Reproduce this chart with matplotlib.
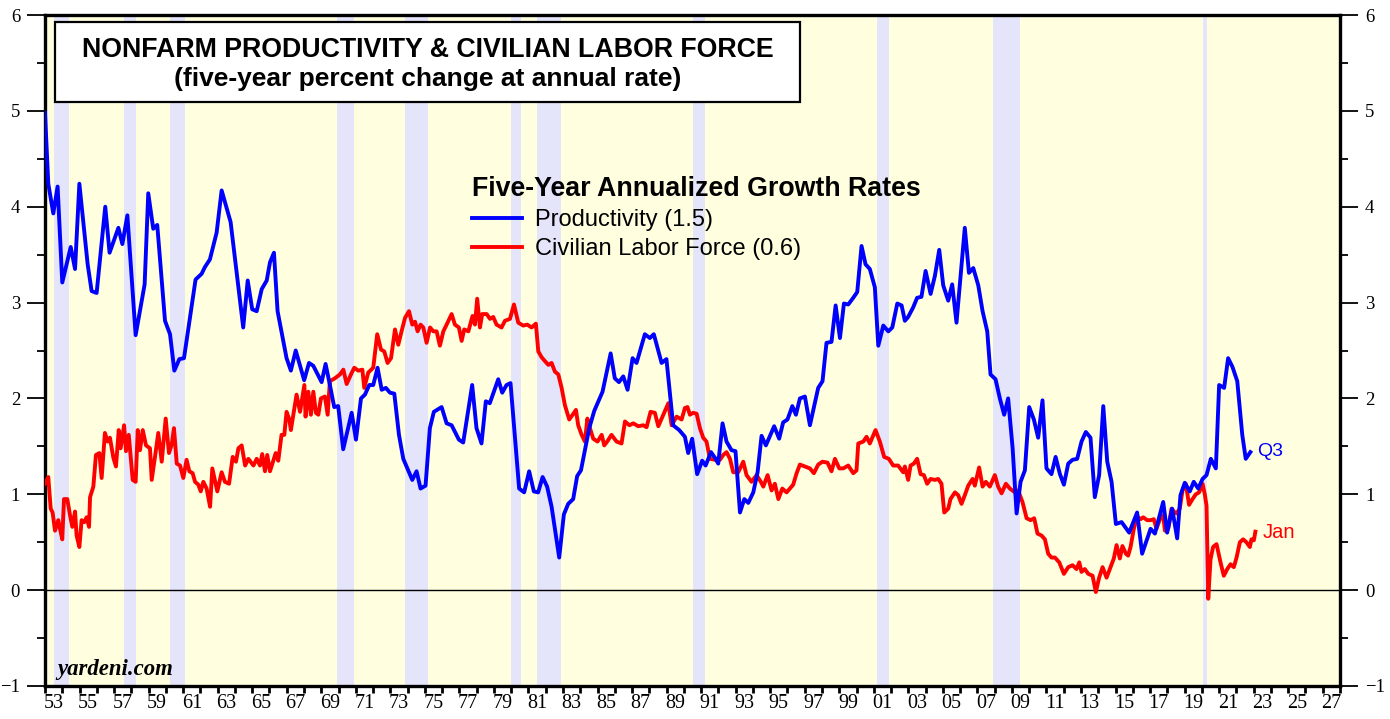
import matplotlib
matplotlib.use("Agg")
import matplotlib.pyplot as plt
from matplotlib.patches import Rectangle

# ---------------- data ----------------
prod_years = [1953.00, 1953.19, 1953.48, 1953.73, 1954.00, 1954.49, 1954.74, 1954.99, 1955.47, 1955.70,
              1955.99, 1956.49, 1956.74, 1957.25, 1957.48, 1957.77, 1958.25, 1958.77, 1958.98, 1959.27,
              1959.50, 1959.95, 1960.24, 1960.49, 1960.78, 1961.05, 1961.72, 1962.07, 1962.26, 1962.55,
              1962.94, 1963.23, 1963.75, 1964.48, 1964.74, 1965.00, 1965.26, 1965.55, 1965.84, 1966.03,
              1966.26, 1966.47, 1966.99, 1967.24, 1967.52, 1968.01, 1968.29, 1968.54, 1969.02, 1969.25,
              1969.50, 1969.75, 1969.98, 1970.27, 1970.76, 1971.01, 1971.30, 1971.53, 1971.78, 1972.01,
              1972.26, 1972.50, 1972.74, 1972.98, 1973.23, 1973.50, 1973.75, 1974.27, 1974.52, 1974.75,
              1975.04, 1975.29, 1975.52, 1975.97, 1976.26, 1976.55, 1976.97, 1977.22, 1977.74, 1977.99,
              1978.28, 1978.53, 1978.76, 1979.25, 1979.48, 1979.73, 1979.96, 1980.46, 1980.75, 1981.04,
              1981.31, 1981.56, 1981.82, 1982.08, 1982.34, 1982.78, 1983.05, 1983.30, 1983.59, 1983.82,
              1984.04, 1984.52, 1984.81, 1985.29, 1985.76, 1986.00, 1986.24, 1986.49, 1986.74, 1987.03,
              1987.26, 1987.74, 1988.03, 1988.26, 1988.71, 1988.99, 1989.38, 1989.73, 1990.06, 1990.25,
              1990.48, 1990.77, 1991.06, 1991.26, 1991.57, 1991.84, 1991.99, 1992.24, 1992.47, 1992.76,
              1992.99, 1993.25, 1993.50, 1993.73, 1994.02, 1994.27, 1994.50, 1994.75, 1995.23, 1995.52,
              1995.75, 1996.00, 1996.28, 1996.49, 1996.72, 1997.01, 1997.30, 1997.78, 1998.03, 1998.26,
              1998.55, 1998.79, 1999.04, 1999.27, 1999.52, 1999.81, 2000.04, 2000.29, 2000.52, 2000.77,
              2001.06, 2001.26, 2001.55, 2001.84, 2002.07, 2002.36, 2002.61, 2002.80, 2002.99, 2003.28,
              2003.51, 2003.76, 2004.00, 2004.29, 2004.54, 2004.79, 2005.02, 2005.31, 2005.54, 2005.79,
              2006.04, 2006.27, 2006.51, 2006.76, 2007.05, 2007.30, 2007.57, 2007.76, 2008.05, 2008.30,
              2008.55, 2008.78, 2009.04, 2009.27, 2009.50, 2009.75, 2010.00, 2010.27, 2010.52, 2010.77,
              2011.00, 2011.29, 2011.53, 2011.78, 2012.01, 2012.26, 2012.51, 2012.78, 2013.03, 2013.28,
              2013.55, 2013.80, 2014.05, 2014.29, 2014.52, 2014.77, 2015.02, 2015.35, 2015.79, 2016.25,
              2016.54, 2017.03, 2017.28, 2017.76, 2017.99, 2018.28, 2018.57, 2018.76, 2019.01, 2019.30,
              2019.53, 2019.79, 2020.04, 2020.27, 2020.52, 2020.81, 2021.00, 2021.29, 2021.52, 2021.77,
              2022.05, 2022.34, 2022.54, 2022.81]
prod_values = [4.98, 4.24, 3.93, 4.21, 3.21, 3.58, 3.35, 4.24, 3.40, 3.12,
               3.10, 4.00, 3.52, 3.78, 3.61, 3.91, 2.66, 3.19, 4.14, 3.77,
               3.81, 2.81, 2.67, 2.29, 2.41, 2.42, 3.24, 3.30, 3.37, 3.45,
               3.73, 4.17, 3.84, 2.74, 3.23, 2.93, 2.91, 3.14, 3.23, 3.42,
               3.52, 2.91, 2.42, 2.29, 2.50, 2.19, 2.37, 2.34, 2.17, 2.36,
               2.14, 1.91, 1.92, 1.47, 1.85, 1.57, 2.00, 2.04, 2.14, 2.14,
               2.32, 2.09, 2.11, 2.06, 2.05, 1.62, 1.37, 1.15, 1.24, 1.06,
               1.09, 1.69, 1.86, 1.91, 1.74, 1.72, 1.57, 1.54, 2.14, 1.69,
               1.53, 1.97, 1.95, 2.20, 2.06, 2.14, 2.16, 1.06, 1.02, 1.24,
               1.03, 1.02, 1.18, 1.08, 0.87, 0.34, 0.79, 0.90, 0.95, 1.19,
               1.25, 1.69, 1.87, 2.07, 2.47, 2.21, 2.17, 2.23, 2.09, 2.42,
               2.37, 2.67, 2.63, 2.67, 2.37, 2.41, 1.72, 1.67, 1.60, 1.43,
               1.58, 1.21, 1.35, 1.30, 1.44, 1.37, 1.32, 1.74, 1.55, 1.46,
               1.45, 0.81, 0.95, 0.91, 1.02, 1.23, 1.61, 1.51, 1.71, 1.58,
               1.75, 1.78, 1.92, 1.83, 2.00, 2.02, 1.72, 2.11, 2.18, 2.58,
               2.59, 2.97, 2.63, 2.99, 2.98, 3.05, 3.11, 3.59, 3.40, 3.35,
               3.16, 2.55, 2.76, 2.70, 2.74, 2.99, 2.97, 2.81, 2.85, 2.95,
               3.05, 3.06, 3.33, 3.09, 3.28, 3.55, 3.18, 3.02, 3.19, 2.79,
               3.30, 3.78, 3.31, 3.36, 3.18, 2.91, 2.70, 2.25, 2.20, 2.00,
               1.83, 2.00, 1.48, 0.80, 1.13, 1.25, 1.91, 1.78, 1.59, 1.98,
               1.27, 1.21, 1.39, 1.21, 1.10, 1.32, 1.36, 1.37, 1.55, 1.65,
               1.59, 0.97, 1.20, 1.92, 1.34, 1.13, 0.69, 0.71, 0.60, 0.81,
               0.38, 0.64, 0.59, 0.92, 0.60, 0.85, 0.54, 0.99, 1.12, 1.03,
               1.13, 1.06, 1.16, 1.20, 1.37, 1.27, 2.14, 2.11, 2.42, 2.33,
               2.18, 1.62, 1.37, 1.44]

lf_years = [1953.00, 1953.19, 1953.33, 1953.44, 1953.58, 1953.77, 1953.87, 1954.00, 1954.10, 1954.29,
            1954.45, 1954.58, 1954.74, 1954.83, 1954.99, 1955.12, 1955.28, 1955.41, 1955.55, 1955.61,
            1955.80, 1955.95, 1956.15, 1956.28, 1956.47, 1956.63, 1956.76, 1956.96, 1957.11, 1957.27,
            1957.38, 1957.58, 1957.69, 1957.85, 1958.08, 1958.25, 1958.37, 1958.50, 1958.66, 1958.85,
            1959.08, 1959.18, 1959.37, 1959.56, 1959.76, 1959.99, 1960.18, 1960.34, 1960.47, 1960.63,
            1960.82, 1961.01, 1961.20, 1961.36, 1961.55, 1961.69, 1961.88, 1962.02, 1962.17, 1962.36,
            1962.56, 1962.69, 1962.98, 1963.23, 1963.42, 1963.66, 1963.87, 1964.06, 1964.20, 1964.39,
            1964.59, 1964.78, 1965.07, 1965.26, 1965.45, 1965.58, 1965.74, 1965.87, 1966.03, 1966.22,
            1966.36, 1966.51, 1966.70, 1966.86, 1966.99, 1967.15, 1967.24, 1967.38, 1967.57, 1967.77,
            1968.02, 1968.09, 1968.25, 1968.40, 1968.54, 1968.69, 1968.83, 1968.98, 1969.21, 1969.37,
            1969.50, 1969.79, 1970.08, 1970.28, 1970.47, 1970.72, 1970.91, 1971.14, 1971.38, 1971.49,
            1971.72, 1972.01, 1972.24, 1972.46, 1972.65, 1972.84, 1973.04, 1973.27, 1973.46, 1973.65,
            1973.85, 1974.08, 1974.27, 1974.43, 1974.58, 1974.75, 1974.91, 1975.10, 1975.30, 1975.49,
            1975.68, 1975.87, 1976.07, 1976.26, 1976.55, 1976.74, 1976.97, 1977.13, 1977.28, 1977.52,
            1977.76, 1977.90, 1978.03, 1978.19, 1978.32, 1978.58, 1978.77, 1978.96, 1979.15, 1979.44,
            1979.64, 1979.93, 1980.16, 1980.41, 1980.70, 1980.93, 1981.18, 1981.43, 1981.57, 1981.76,
            1981.95, 1982.15, 1982.34, 1982.53, 1982.73, 1982.92, 1983.11, 1983.36, 1983.56, 1983.75,
            1983.88, 1984.08, 1984.27, 1984.41, 1984.56, 1984.75, 1985.00, 1985.24, 1985.39, 1985.56,
            1985.81, 1986.10, 1986.39, 1986.59, 1986.84, 1987.07, 1987.36, 1987.65, 1987.84, 1988.07,
            1988.32, 1988.52, 1988.81, 1989.10, 1989.29, 1989.58, 1989.87, 1990.06, 1990.21, 1990.35,
            1990.54, 1990.74, 1990.93, 1991.12, 1991.31, 1991.51, 1991.80, 1992.09, 1992.28, 1992.47,
            1992.67, 1992.86, 1993.15, 1993.44, 1993.63, 1993.92, 1994.21, 1994.46, 1994.60, 1994.85,
            1995.08, 1995.27, 1995.47, 1995.70, 1995.95, 1996.14, 1996.33, 1996.53, 1996.72, 1997.01,
            1997.30, 1997.53, 1997.78, 1998.03, 1998.32, 1998.55, 1998.75, 1999.00, 1999.23, 1999.52,
            1999.81, 2000.00, 2000.10, 2000.39, 2000.58, 2000.77, 2001.10, 2001.35, 2001.60, 2001.87,
            2002.12, 2002.41, 2002.70, 2002.80, 2002.99, 2003.13, 2003.32, 2003.51, 2003.71, 2003.90,
            2004.09, 2004.29, 2004.54, 2004.73, 2004.92, 2005.08, 2005.31, 2005.44, 2005.70, 2005.89,
            2006.08, 2006.27, 2006.47, 2006.72, 2006.85, 2007.10, 2007.30, 2007.49, 2007.72, 2008.01,
            2008.20, 2008.40, 2008.65, 2008.88, 2009.17, 2009.36, 2009.61, 2009.85, 2010.08, 2010.29,
            2010.48, 2010.71, 2010.91, 2011.10, 2011.29, 2011.49, 2011.74, 2012.01, 2012.26, 2012.51,
            2012.74, 2012.90, 2013.03, 2013.22, 2013.42, 2013.67, 2013.86, 2014.05, 2014.25, 2014.48,
            2014.67, 2014.90, 2015.06, 2015.25, 2015.40, 2015.60, 2015.73, 2015.87, 2016.06, 2016.25,
            2016.45, 2016.60, 2016.83, 2017.03, 2017.22, 2017.37, 2017.57, 2017.76, 2017.86, 2018.05,
            2018.24, 2018.38, 2018.53, 2018.72, 2018.88, 2019.07, 2019.26, 2019.46, 2019.65, 2019.84,
            2020.04, 2020.17, 2020.27, 2020.37, 2020.50, 2020.65, 2020.85, 2021.08, 2021.27, 2021.47,
            2021.66, 2021.85, 2022.01, 2022.20, 2022.39, 2022.58, 2022.78, 2022.87, 2023.01, 2023.10]
lf_values = [1.11, 1.18, 0.85, 0.81, 0.62, 0.73, 0.64, 0.53, 0.95, 0.95,
             0.78, 0.66, 0.82, 0.57, 0.45, 0.73, 0.71, 0.76, 0.66, 0.97,
             1.08, 1.41, 1.43, 1.17, 1.64, 1.55, 1.59, 1.38, 1.29, 1.67,
             1.48, 1.72, 1.45, 1.62, 1.15, 1.13, 1.67, 1.46, 1.67, 1.51,
             1.48, 1.15, 1.39, 1.64, 1.34, 1.79, 1.43, 1.52, 1.69, 1.32,
             1.30, 1.17, 1.36, 1.24, 1.22, 1.13, 1.10, 1.03, 1.13, 1.06,
             0.87, 1.27, 1.03, 1.23, 1.13, 1.11, 1.39, 1.34, 1.48, 1.51,
             1.30, 1.37, 1.30, 1.37, 1.30, 1.42, 1.24, 1.41, 1.24, 1.35,
             1.43, 1.35, 1.62, 1.62, 1.86, 1.78, 1.67, 1.83, 2.04, 1.86,
             2.14, 1.81, 2.07, 1.83, 2.07, 1.85, 1.83, 2.00, 2.02, 1.83,
             2.18, 2.21, 2.25, 2.30, 2.15, 2.25, 2.32, 2.29, 2.30, 2.11,
             2.27, 2.32, 2.67, 2.51, 2.49, 2.37, 2.42, 2.72, 2.56, 2.70,
             2.84, 2.91, 2.77, 2.80, 2.70, 2.77, 2.74, 2.58, 2.74, 2.70,
             2.70, 2.55, 2.70, 2.77, 2.88, 2.77, 2.74, 2.60, 2.72, 2.70,
             2.86, 2.77, 3.04, 2.74, 2.88, 2.88, 2.83, 2.85, 2.77, 2.74,
             2.81, 2.83, 2.98, 2.79, 2.76, 2.77, 2.74, 2.78, 2.49, 2.43,
             2.39, 2.35, 2.37, 2.28, 2.25, 2.11, 1.93, 1.78, 1.83, 1.88,
             1.72, 1.62, 1.55, 1.79, 1.69, 1.58, 1.55, 1.62, 1.51, 1.55,
             1.62, 1.55, 1.53, 1.76, 1.72, 1.74, 1.71, 1.72, 1.70, 1.86,
             1.85, 1.71, 1.83, 1.95, 1.72, 1.81, 1.78, 1.90, 1.91, 1.83,
             1.85, 1.84, 1.69, 1.59, 1.55, 1.37, 1.36, 1.36, 1.41, 1.44,
             1.37, 1.23, 1.23, 1.34, 1.20, 1.13, 1.20, 1.13, 1.08, 1.20,
             1.04, 1.11, 0.95, 1.06, 1.02, 1.06, 1.10, 1.22, 1.31, 1.29,
             1.27, 1.22, 1.31, 1.34, 1.33, 1.24, 1.37, 1.27, 1.27, 1.30,
             1.22, 1.25, 1.53, 1.55, 1.60, 1.53, 1.67, 1.55, 1.39, 1.37,
             1.30, 1.30, 1.23, 1.29, 1.15, 1.30, 1.32, 1.37, 1.21, 1.20,
             1.11, 1.16, 1.15, 1.16, 1.11, 0.81, 0.85, 0.95, 1.02, 0.99,
             0.90, 0.99, 1.09, 1.16, 1.09, 1.28, 1.08, 1.13, 1.08, 1.20,
             1.08, 1.01, 1.11, 1.06, 1.02, 1.04, 0.92, 0.75, 0.73, 0.75,
             0.59, 0.57, 0.53, 0.38, 0.34, 0.34, 0.29, 0.17, 0.24, 0.26,
             0.22, 0.29, 0.19, 0.22, 0.17, 0.15, -0.02, 0.13, 0.24, 0.13,
             0.22, 0.33, 0.47, 0.33, 0.46, 0.38, 0.36, 0.45, 0.64, 0.77,
             0.74, 0.76, 0.73, 0.73, 0.74, 0.64, 0.74, 0.78, 0.62, 0.64,
             0.85, 0.82, 0.80, 0.85, 1.04, 1.11, 0.89, 0.95, 1.00, 1.02,
             1.11, 1.00, 0.88, -0.09, 0.32, 0.45, 0.48, 0.29, 0.15, 0.22,
             0.27, 0.24, 0.34, 0.50, 0.53, 0.50, 0.45, 0.53, 0.52, 0.61]

recession_starts = [1953.50, 1957.58, 1960.25, 1969.92, 1973.83, 1980.00, 1981.50, 1990.50, 2001.17, 2007.92, 2020.08]
recession_ends   = [1954.37, 1958.29, 1961.12, 1970.87, 1975.21, 1980.54, 1982.87, 1991.21, 2001.87, 2009.46, 2020.29]

prod_label = "Productivity (1.5)"
lf_label = "Civilian Labor Force (0.6)"
title_line1 = "NONFARM PRODUCTIVITY & CIVILIAN LABOR FORCE"
title_line2 = "(five-year percent change at annual rate)"
legend_title = "Five-Year Annualized Growth Rates"

# ---------------- figure ----------------
SANS = ["Liberation Sans", "DejaVu Sans"]
SERIF = ["Liberation Serif", "DejaVu Serif"]

fig = plt.figure(figsize=(13.9, 7.19), dpi=100)
ax = fig.add_axes([45/1390, 1 - 686/719, 1295/1390, 671/719])
ax.set_facecolor("#FFFFE0")

for s, e in zip(recession_starts, recession_ends):
    ax.axvspan(s, e, color="#E4E4FA", lw=0, zorder=1)

ax.axhline(0, color="black", lw=1.0, zorder=2)

l1, = ax.plot(prod_years, prod_values, color="#0000FF", lw=2.8, zorder=4,
              solid_joinstyle="round", label=prod_label)
l2, = ax.plot(lf_years, lf_values, color="#FF0000", lw=2.8, zorder=3,
              solid_joinstyle="round", label=lf_label)

ax.set_xlim(1953, 2028)
ax.set_ylim(-1, 6)

# x ticks: a tick at every year boundary, labels centred on odd years
ax.set_xticks(range(1953, 2029))
ax.set_xticklabels([])
ax.set_xticks([y + 0.5 for y in range(1953, 2028, 2)], minor=True)
ax.set_xticklabels([f"{y % 100:02d}" for y in range(1953, 2028, 2)], minor=True,
                   fontfamily=SERIF, fontsize=14.5)
ax.tick_params(axis="x", which="major", direction="out", length=5, width=2, bottom=True, top=False)
ax.tick_params(axis="x", which="minor", length=0, pad=6)

# y ticks on both sides
ax.set_yticks(range(-1, 7))
ax.set_yticks([v + 0.5 for v in range(-1, 6)], minor=True)
ax.tick_params(axis="y", which="major", direction="out", length=13, width=1.3,
               left=True, right=True, labelleft=True, labelright=True, pad=5)
ax.tick_params(axis="y", which="minor", direction="out", length=6, width=1.3,
               left=True, right=True)
for lab in ax.get_yticklabels():
    lab.set_fontfamily(SERIF)
    lab.set_fontsize(13.5)

for sp in ax.spines.values():
    sp.set_linewidth(2.4)
    sp.set_color("black")

# title box
ax.add_patch(Rectangle((10/1295, 1 - 87/671), 745/1295, 80/671, transform=ax.transAxes,
                       facecolor="white", edgecolor="black", lw=1.6, zorder=6))
ax.text(382.5/1295, 1 - 35/671, title_line1, transform=ax.transAxes, ha="center", va="center",
        fontsize=19.3, fontweight="bold", fontfamily=SANS, zorder=7)
ax.text(382.5/1295, 1 - 64/671, title_line2, transform=ax.transAxes, ha="center", va="center",
        fontsize=19, fontweight="bold", fontfamily=SANS, zorder=7)

# legend
leg = ax.legend(handles=[l1, l2], loc="upper left", bbox_to_anchor=((472-45)/1295, 1 - (176-15)/671),
                frameon=False, borderpad=0, borderaxespad=0, handlelength=2.1, handletextpad=0.55,
                labelspacing=0.3, prop={"family": SANS, "size": 17},
                title=legend_title, title_fontproperties={"family": SANS, "size": 19.3, "weight": "bold"},
                alignment="left")
for h in leg.legend_handles:
    h.set_linewidth(2.8)

# end labels
ax.text(2023.2, 1.45, "Q3", color="#0000FF", fontsize=14, fontfamily=SANS, va="center", ha="left")
ax.text(2023.5, 0.60, "Jan", color="#FF0000", fontsize=14.5, fontfamily=SANS, va="center", ha="left")

ax.text(1953.7, -0.83, "yardeni.com", fontsize=16.4, fontfamily=SERIF, fontweight="bold",
        fontstyle="italic", va="center", ha="left", zorder=5)

fig.savefig("out.png", dpi=100)
